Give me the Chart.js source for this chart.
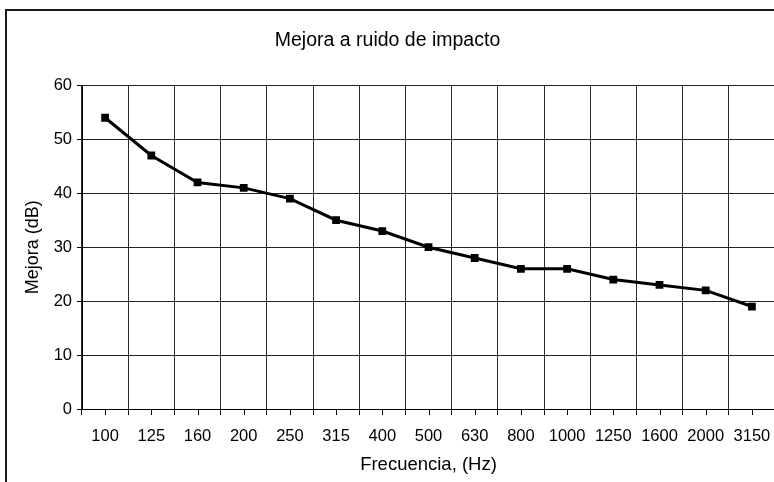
<!DOCTYPE html>
<html>
<head>
<meta charset="utf-8">
<script src="https://cdn.jsdelivr.net/npm/chart.js@4/dist/chart.umd.min.js"></script>
<style>
    html, body { margin: 0; padding: 0; background: #fff; }
    #wrap { position: relative; width: 774px; height: 482px; overflow: hidden; }
    #frame { position: absolute; left: 5px; top: 9px; width: 1000px; height: 1000px; border: 2px solid #1a1a1a; }
    #chart { position: absolute; left: 0; top: 0; }
</style>
</head>
<body>
<div id="wrap">
    <div id="frame"></div>
    <canvas id="chart" width="792" height="482"></canvas>
</div>
<script>
const frequencies = ['100', '125', '160', '200', '250', '315', '400', '500', '630', '800', '1000', '1250', '1600', '2000', '3150'];
const mejora = [54, 47, 42, 41, 39, 35, 33, 30, 28, 26, 26, 24, 23, 22, 19];
const yTicks = [0, 10, 20, 30, 40, 50, 60];

// small tick marks under each category centre
const centreTicks = {
    id: 'centreTicks',
    afterDraw(chart) {
        const xs = chart.scales.x;
        const ctx = chart.ctx;
        ctx.save();
        ctx.strokeStyle = '#000';
        ctx.lineWidth = 1;
        frequencies.forEach((f, i) => {
            const px = Math.round(xs.getPixelForValue(i)) + 0.5;
            ctx.beginPath();
            ctx.moveTo(px, xs.top);
            ctx.lineTo(px, xs.top + 6);
            ctx.stroke();
        });
        ctx.restore();
    }
};

Chart.defaults.font.family = '"Liberation Sans", Arial, sans-serif';
Chart.defaults.color = '#000';

new Chart(document.getElementById('chart').getContext('2d'), {
    type: 'line',
    data: {
        labels: frequencies,
        datasets: [{
            data: mejora,
            borderColor: '#000',
            backgroundColor: '#000',
            borderWidth: 3,
            pointStyle: 'rect',
            pointRadius: 5.5,
            pointBorderWidth: 0,
            pointBackgroundColor: '#000',
            tension: 0
        }]
    },
    options: {
        responsive: false,
        animation: false,
        layout: { padding: { left: 0, right: 17, top: 0, bottom: 0 } },
        plugins: {
            legend: { display: false },
            tooltip: { enabled: false },
            title: {
                display: true,
                text: 'Mejora a ruido de impacto',
                font: { size: 19.5, weight: 'normal' },
                color: '#000',
                padding: { top: 29, bottom: 33 }
            }
        },
        scales: {
            x: {
                offset: true,
                grid: { offset: true, color: '#2a2a2a', tickLength: 6, tickColor: '#000' },
                border: { color: '#000', width: 1 },
                ticks: { font: { size: 16.5 }, autoSkip: false, maxRotation: 0, padding: 12 },
                title: { display: true, text: 'Frecuencia, (Hz)', font: { size: 18.5 }, padding: { top: 0, bottom: 6 } },
                afterFit: (scale) => { scale.height = 73; }
            },
            y: {
                min: 0,
                max: 60,
                afterBuildTicks: (scale) => { scale.ticks = yTicks.map(v => ({ value: v })); },
                grid: { color: '#222', tickLength: 5, tickColor: '#000' },
                border: { color: '#000', width: 1 },
                ticks: { font: { size: 16.5 }, padding: 5 },
                title: { display: true, text: 'Mejora (dB)', font: { size: 18 }, padding: { top: 22, bottom: 0 } },
                afterFit: (scale) => { scale.width = 82; }
            }
        }
    },
    plugins: [centreTicks]
});
</script>
</body>
</html>
